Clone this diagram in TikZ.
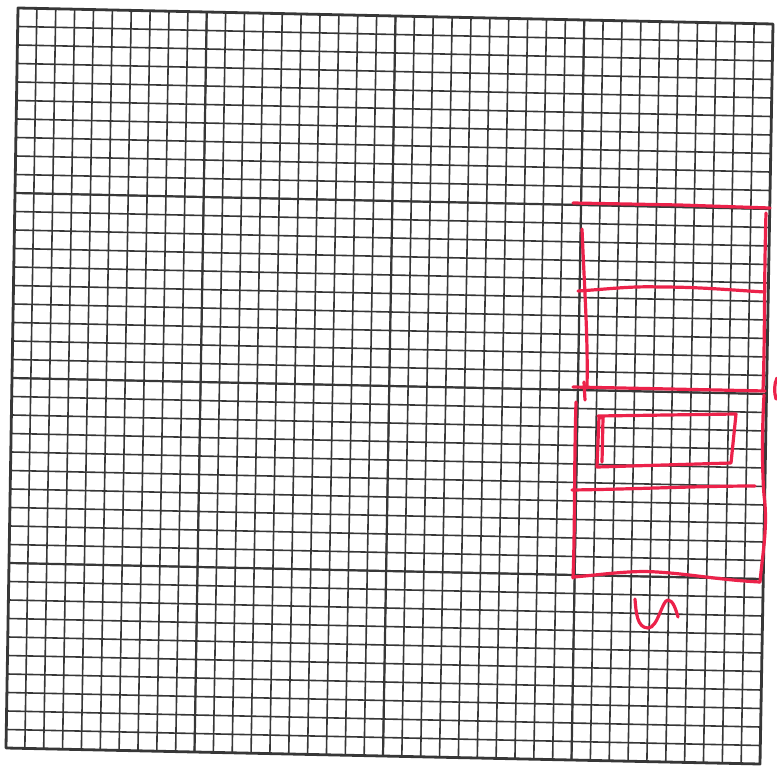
\documentclass[tikz,border=0pt]{standalone}
\usetikzlibrary{calc}
\definecolor{gridc}{RGB}{55,55,55}
\definecolor{penred}{RGB}{236,34,74}
\tikzset{
  minorline/.style={draw=gridc, line width=1.6pt},
  majorline/.style={draw=gridc, line width=2.2pt},
  borderline/.style={draw=gridc, line width=2.8pt, line join=round},
  pen/.style={draw=penred, line width=3.2pt, line cap=round, line join=round},
}
\begin{document}
\begin{tikzpicture}[x=1pt,y=-1pt]
\useasboundingbox[fill=white] (0,0) rectangle (777,771);
\coordinate (TL) at (18,8);
\coordinate (TR) at (773,24);
\coordinate (BR) at (760,764);
\coordinate (BL) at (6,748);
% minor grid
\foreach \i in {1,...,39}{
  \draw[minorline] ($(TL)!\i/40!(TR)$) -- ($(BL)!\i/40!(BR)$);
  \draw[minorline] ($(TL)!\i/40!(BL)$) -- ($(TR)!\i/40!(BR)$);
}
% major grid
\foreach \i in {10,20,30}{
  \draw[majorline] ($(TL)!\i/40!(TR)$) -- ($(BL)!\i/40!(BR)$);
  \draw[majorline] ($(TL)!\i/40!(BL)$) -- ($(TR)!\i/40!(BR)$);
}
% border
\draw[borderline] (TL) -- (TR) -- (BR) -- (BL) -- cycle;
% red hand drawing
\draw[pen] (573,203) -- (680,205) -- (770,208);
\draw[pen] (582,229) .. controls (585,300) and (588,340) .. (587,388);
\draw[pen] (766,213) .. controls (764,280) and (765,340) .. (763,390);
\draw[pen] (578,291) .. controls (610,289) and (630,286) .. (660,287) .. controls (700,287) and (730,290) .. (765,292);
\draw[pen] (573,387) -- (670,389) -- (765,391);
\draw[pen] (584,382) -- (585,400);
\draw[pen] (576,402) .. controls (574,470) and (575,530) .. (573,578);
\draw[pen] (764,395) .. controls (762,430) and (762,470) .. (764,495) .. controls (768,525) and (763,550) .. (760,582);
\draw[pen] (598,416) -- (736,414) -- (731,463) -- (597,467) -- (599,417) -- (603,418) -- (602,462);
\draw[pen] (572,490) .. controls (640,489) and (700,486) .. (755,486);
\draw[pen] (573,577) .. controls (600,575) and (630,570) .. (657,572) .. controls (690,574) and (720,580) .. (760,582);
\draw[pen] (635,599) .. controls (636,612) and (637,628) .. (648,628) .. controls (658,628) and (662,600) .. (668,600) .. controls (673,600) and (676,610) .. (678,617);
\draw[pen] (777,378) .. controls (774,384) and (774,392) .. (776,399);
\end{tikzpicture}
\end{document}
